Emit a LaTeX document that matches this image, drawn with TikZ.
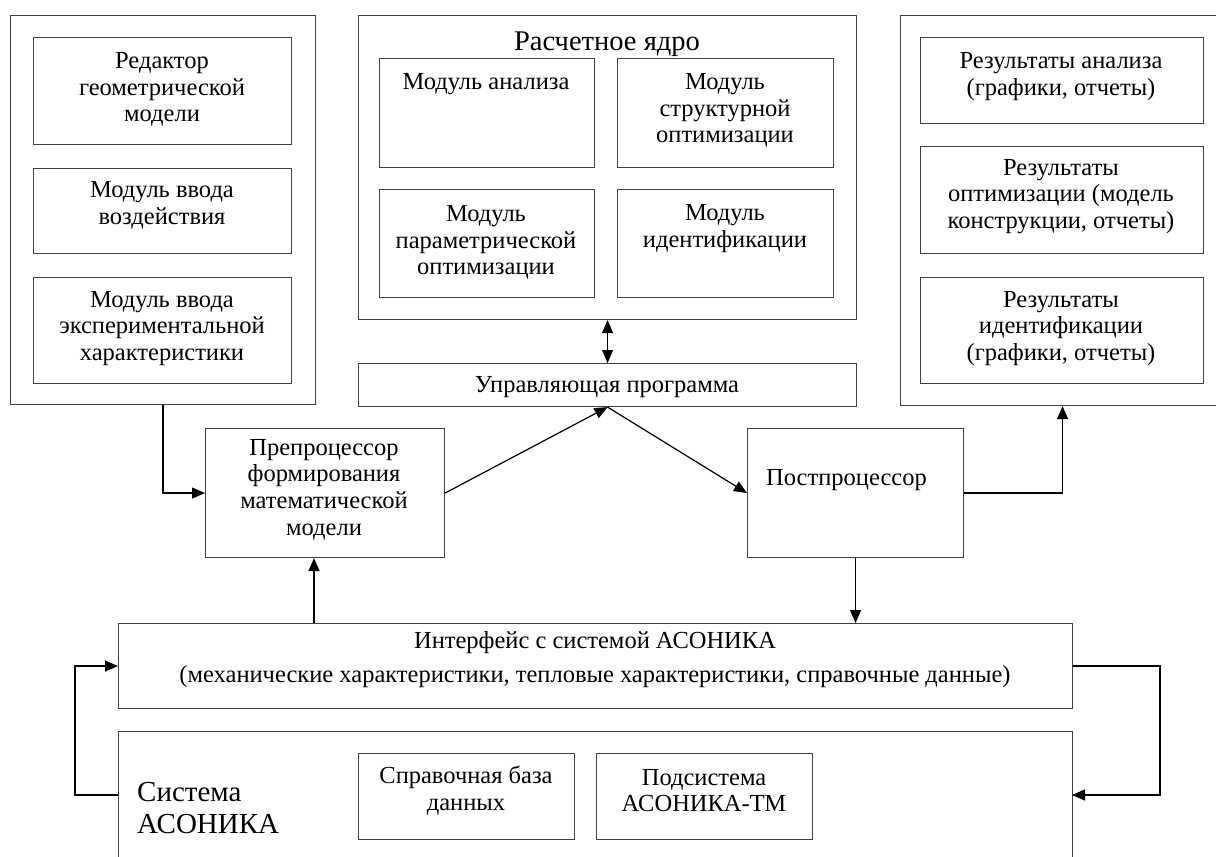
\documentclass[tikz,border=0pt]{standalone}
\usepackage{fontspec}
\setmainfont{Liberation Serif}
\usetikzlibrary{arrows.meta,positioning,calc}
\begin{document}
\begin{tikzpicture}[x=1pt,y=-1pt,
  box/.style={draw=black!75, line width=1.1pt, rectangle, inner sep=0pt, anchor=north west},
  txt/.style={align=center, inner sep=0pt, yshift=-2.5pt, font=\fontsize{24.5}{26.7}\selectfont},
  arr/.style={line width=1.2pt, -{Triangle[length=13pt,width=11pt]}},
  darr/.style={line width=1.2pt, {Triangle[length=13pt,width=11pt]}-{Triangle[length=13pt,width=11pt]}},
]
\clip (0,0) rectangle (1216,857);
\fill[white] (0,0) rectangle (1216,857);
% left group
\node[box, minimum width=305pt, minimum height=389pt] (L) at (10,15) {};
\node[box, minimum width=258pt, minimum height=107pt] (l1) at (33,37) {};
\node[box, minimum width=258pt, minimum height=85pt] (l2) at (33,168) {};
\node[box, minimum width=258pt, minimum height=106pt] (l3) at (33,277) {};
\node[txt] (tl1) at (162,87) {Редактор\\геометрической\\модели};
\node[txt] (tl2) at (162,203) {Модуль ввода\\воздействия};
\node[txt] (tl3) at (162,326) {Модуль ввода\\экспериментальной\\характеристики};
% core
\node[box, minimum width=498pt, minimum height=304pt] (C) at (358,15) {};
\node[txt, font=\fontsize{28.5}{30}\selectfont] (tC) at (607,42) {Расчетное ядро};
\node[box, minimum width=215pt, minimum height=109pt] (c1) at (379,58) {};
\node[box, minimum width=216pt, minimum height=109pt] (c2) at (617,58) {};
\node[box, minimum width=215pt, minimum height=108pt] (c3) at (379,189) {};
\node[box, minimum width=216pt, minimum height=108pt] (c4) at (617,189) {};
\node[txt] (tc1) at (486,82) {Модуль анализа};
\node[txt] (tc2) at (725,108) {Модуль\\структурной\\оптимизации};
\node[txt] (tc3) at (486,240) {Модуль\\параметрической\\оптимизации};
\node[txt] (tc4) at (725,226) {Модуль\\идентификации};
% control
\node[box, minimum width=498pt, minimum height=43pt] (ctl) at (358,363) {};
\node[txt] (tctl) at (607,385) {Управляющая программа};
% right group
\node[box, minimum width=324pt, minimum height=390pt] (R) at (900,15) {};
\node[box, minimum width=283pt, minimum height=86pt] (r1) at (920,37) {};
\node[box, minimum width=283pt, minimum height=107pt] (r2) at (920,146) {};
\node[box, minimum width=283pt, minimum height=106pt] (r3) at (920,277) {};
\node[txt] (tr1) at (1061,74) {Результаты анализа\\(графики, отчеты)};
\node[txt] (tr2) at (1061,194) {Результаты\\оптимизации (модель\\конструкции, отчеты)};
\node[txt] (tr3) at (1061,326) {Результаты\\идентификации\\(графики, отчеты)};
% pre / post
\node[box, minimum width=239pt, minimum height=129pt] (pre) at (205,428) {};
\node[txt] (tpre) at (324,487) {Препроцессор\\формирования\\математической\\модели};
\node[box, minimum width=216pt, minimum height=129pt] (post) at (747,428) {};
\node[txt, anchor=west] (tpost) at (766,478) {Постпроцессор};
% interface
\node[box, minimum width=954pt, minimum height=85pt] (ifc) at (118,623) {};
\node[txt] (tifc) at (595,657) {Интерфейс с системой АСОНИКА\\[6.5pt](механические характеристики, тепловые характеристики, справочные данные)};
% system
\node[box, minimum width=954pt, minimum height=160pt] (sys) at (118,731) {};
\node[txt, align=left, anchor=west, font=\fontsize{29}{32}\selectfont] (tsys) at (137,806) {Система\\АСОНИКА};
\node[box, minimum width=216pt, minimum height=86pt] (s1) at (358,753) {};
\node[box, minimum width=216pt, minimum height=86pt] (s2) at (596,753) {};
\node[txt] (ts1) at (466,788) {Справочная база\\данных};
\node[txt] (ts2) at (704,788) {Подсистема\\АСОНИКА-ТМ};
% coordinates
\coordinate (ifcA) at (314,623);
\coordinate (sysL) at (118,795);
\coordinate (sysR) at (1072,795);
\coordinate (lx) at (75,0);
\coordinate (rx) at (1160,0);
% connectors
\draw[arr] (L.south) |- (pre.west);
\draw[arr] (pre.east) -- (ctl.south);
\draw[arr] (ctl.south) -- (post.west);
\draw[darr] (C.south) -- (ctl.north);
\draw[arr] (post.east) -| (R.south);
\draw[arr] (post.south) -- (post.south |- ifc.north);
\draw[arr] (ifcA) -- (ifcA |- pre.south);
\draw[arr] (sysL) -- (sysL -| lx) |- (ifc.west);
\draw[arr] (ifc.east) -- (ifc.east -| rx) |- (sysR);
\end{tikzpicture}
\end{document}
